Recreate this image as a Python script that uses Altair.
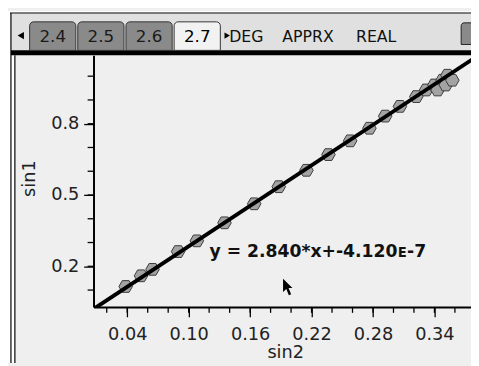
import altair as alt
import pandas as pd

# ---- data ----
sin2 = [0.0385, 0.0535, 0.0647, 0.0897, 0.108, 0.135, 0.164, 0.188, 0.215, 0.2365,
        0.2577, 0.2765, 0.2919, 0.3063, 0.3223, 0.3319, 0.3399, 0.3479, 0.3527,
        0.3431, 0.3510, 0.3575]
sin1 = [0.115, 0.160, 0.187, 0.262, 0.307, 0.383, 0.463, 0.535, 0.604, 0.670,
        0.728, 0.781, 0.832, 0.873, 0.914, 0.942, 0.963, 0.983, 1.004,
        0.942, 0.963, 0.983]

slope = 2.840
intercept = -4.120e-7
fit_x = [0.0, 0.40]
equation = "y = 2.840*x+-4.120ᴇ-7"

x_major = [0.04, 0.10, 0.16, 0.22, 0.28, 0.34]
x_minor = [0.02, 0.04, 0.06, 0.08, 0.10, 0.12, 0.14, 0.16, 0.18, 0.20, 0.22,
           0.24, 0.26, 0.28, 0.30, 0.32, 0.34, 0.36]
y_major = [0.2, 0.5, 0.8]
y_minor = [0.1, 0.2, 0.3, 0.4, 0.5, 0.6, 0.7, 0.8, 0.9, 1.0]

tabs = ["2.4", "2.5", "2.6", "2.7"]
status_words = ["DEG", "APPRX", "REAL"]

FONT = "DejaVu Sans"
X_DOMAIN = [0.0071, 0.3757]
Y_DOMAIN = [0.029, 1.088]
xs = alt.Scale(domain=X_DOMAIN, nice=False, zero=False)
ys = alt.Scale(domain=Y_DOMAIN, nice=False, zero=False)

x_axis = alt.Axis(values=x_major, format=".2f", tickSize=10, tickWidth=1.3,
                  domainWidth=2, domainColor="black", tickColor="black",
                  labelFont=FONT, labelFontSize=18, labelColor="#222",
                  labelPadding=9, grid=False, labelOverlap=False,
                  titleFont=FONT, titleFontSize=18, titleFontWeight="normal",
                  titleColor="#222", titleX=195, titleY=46,
                  titleBaseline="middle", titleAlign="center")
y_axis = alt.Axis(values=y_major, format=".1f", tickSize=10, tickWidth=1.3,
                  domainWidth=2, domainColor="black", tickColor="black",
                  labelFont=FONT, labelFontSize=18, labelColor="#222",
                  labelPadding=5, grid=False, labelOverlap=False,
                  titleFont=FONT, titleFontSize=18, titleFontWeight="normal",
                  titleColor="#222", titleX=-65, titleY=125, titleAngle=270,
                  titleBaseline="middle", titleAlign="center")

pts = pd.DataFrame({"sin2": sin2, "sin1": sin1})
fit = pd.DataFrame({"sin2": fit_x, "sin1": [slope * v + intercept for v in fit_x]})
one = pd.DataFrame({"a": [0]})


def rect(x, x2, y, y2, fill, stroke=None, sw=0, r=0):
    kw = dict(fill=fill, strokeWidth=sw)
    if stroke:
        kw["stroke"] = stroke
    if r:
        kw["cornerRadiusTopLeft"] = r
        kw["cornerRadiusTopRight"] = r
    return alt.Chart(one).mark_rect(**kw).encode(
        x=alt.value(x), x2=alt.value(x2), y=alt.value(y), y2=alt.value(y2))


def txt(s, x, y, size, **kw):
    return alt.Chart(one).mark_text(font=FONT, fontSize=size, baseline="middle", **kw).encode(
        x=alt.value(x), y=alt.value(y), text=alt.value(s))


# plot origin is page (95, 53)
chrome = [
    rect(-87, -84, -45, 313, "white"),
    rect(-87, 384, -45, -43, "white"),
    rect(-84, -80, -43, 313, "white"),
    rect(-84, 384, -42, -5, "#e0e0e0"),
    rect(-84, 384, -5, 0, "black"),
    alt.Chart(one).mark_rule(color="black", strokeWidth=1.2).encode(
        x=alt.value(-84), y=alt.value(-43), y2=alt.value(313)),
    alt.Chart(one).mark_rule(color="black", strokeWidth=1.2).encode(
        x=alt.value(-80), y=alt.value(0), y2=alt.value(313)),
    alt.Chart(one).mark_rule(color="black", strokeWidth=1.2).encode(
        x=alt.value(-85), x2=alt.value(384), y=alt.value(-43)),
    rect(374, 390, -33, -11, "#8a8a8a", "#222", 1, 3),
    alt.Chart(one).mark_point(shape="triangle-left", filled=True, color="black",
                              size=55, opacity=1).encode(
        x=alt.value(-74), y=alt.value(-20)),
    alt.Chart(one).mark_point(shape="triangle-right", filled=True, color="black",
                              size=40, opacity=1).encode(
        x=alt.value(136), y=alt.value(-20)),
]
for i, t in enumerate(tabs):
    x0 = -65 + i * 49
    selected = i == len(tabs) - 1
    chrome.append(rect(x0, x0 + 47, -34, -5, "#f2f2f2" if selected else "#8a8a8a",
                       "#333", 1, 4))
    chrome.append(txt(t, x0 + 23.5, -19, 17, align="center",
                      color="black" if selected else "#1a1a1a"))
for w, x0 in zip(status_words, [138, 192, 267]):
    chrome.append(txt(w, x0, -19, 16, align="left", color="#111"))

minor_x = alt.Chart(pd.DataFrame({"sin2": x_minor})).mark_rule(
    color="black", strokeWidth=1.3).encode(
    x=alt.X("sin2:Q", scale=xs, title="sin2", axis=x_axis),
    y=alt.value(256), y2=alt.value(262))
minor_y = alt.Chart(pd.DataFrame({"sin1": y_minor})).mark_rule(
    color="black", strokeWidth=1.3).encode(
    y=alt.Y("sin1:Q", scale=ys, title="sin1", axis=y_axis),
    x=alt.value(-6), x2=alt.value(0))

hexagon = "M-1,0 L-0.5,-0.866 L0.5,-0.866 L1,0 L0.5,0.866 L-0.5,0.866 Z"
points = alt.Chart(pts).mark_point(
    shape=hexagon, filled=True, fill="#a3a3a3", stroke="#3a3a3a",
    strokeWidth=1, size=190, opacity=1).encode(
    x=alt.X("sin2:Q", scale=xs, title="sin2", axis=x_axis),
    y=alt.Y("sin1:Q", scale=ys, title="sin1", axis=y_axis),
)

line = alt.Chart(fit).mark_line(color="black", strokeWidth=4, clip=True).encode(
    x=alt.X("sin2:Q", scale=xs, title="sin2", axis=x_axis),
    y=alt.Y("sin1:Q", scale=ys, title="sin1", axis=y_axis))

eq = txt(equation, 118, 200, 17.5, align="left", fontWeight="bold", color="#111")

cursor_path = ("M-0.6,-1 L-0.6,0.55 L-0.22,0.2 L0.08,0.95 L0.35,0.83 "
               "L0.05,0.1 L0.5,0.1 Z")
cursor = alt.Chart(one).mark_point(shape=cursor_path, filled=True, color="black",
                                   size=300, opacity=1).encode(
    x=alt.value(198), y=alt.value(236))

chart = alt.layer(
    points, *chrome, minor_x, minor_y, line, eq, cursor
).properties(
    width=384, height=256,
    autosize=alt.AutoSizeParams(type="none"),
    padding={"left": 87, "top": 45, "right": 0, "bottom": 57},
    background="#efefef",
).configure_view(stroke=None)

chart.save("out.html", embed_options={"renderer": "svg", "actions": False})
